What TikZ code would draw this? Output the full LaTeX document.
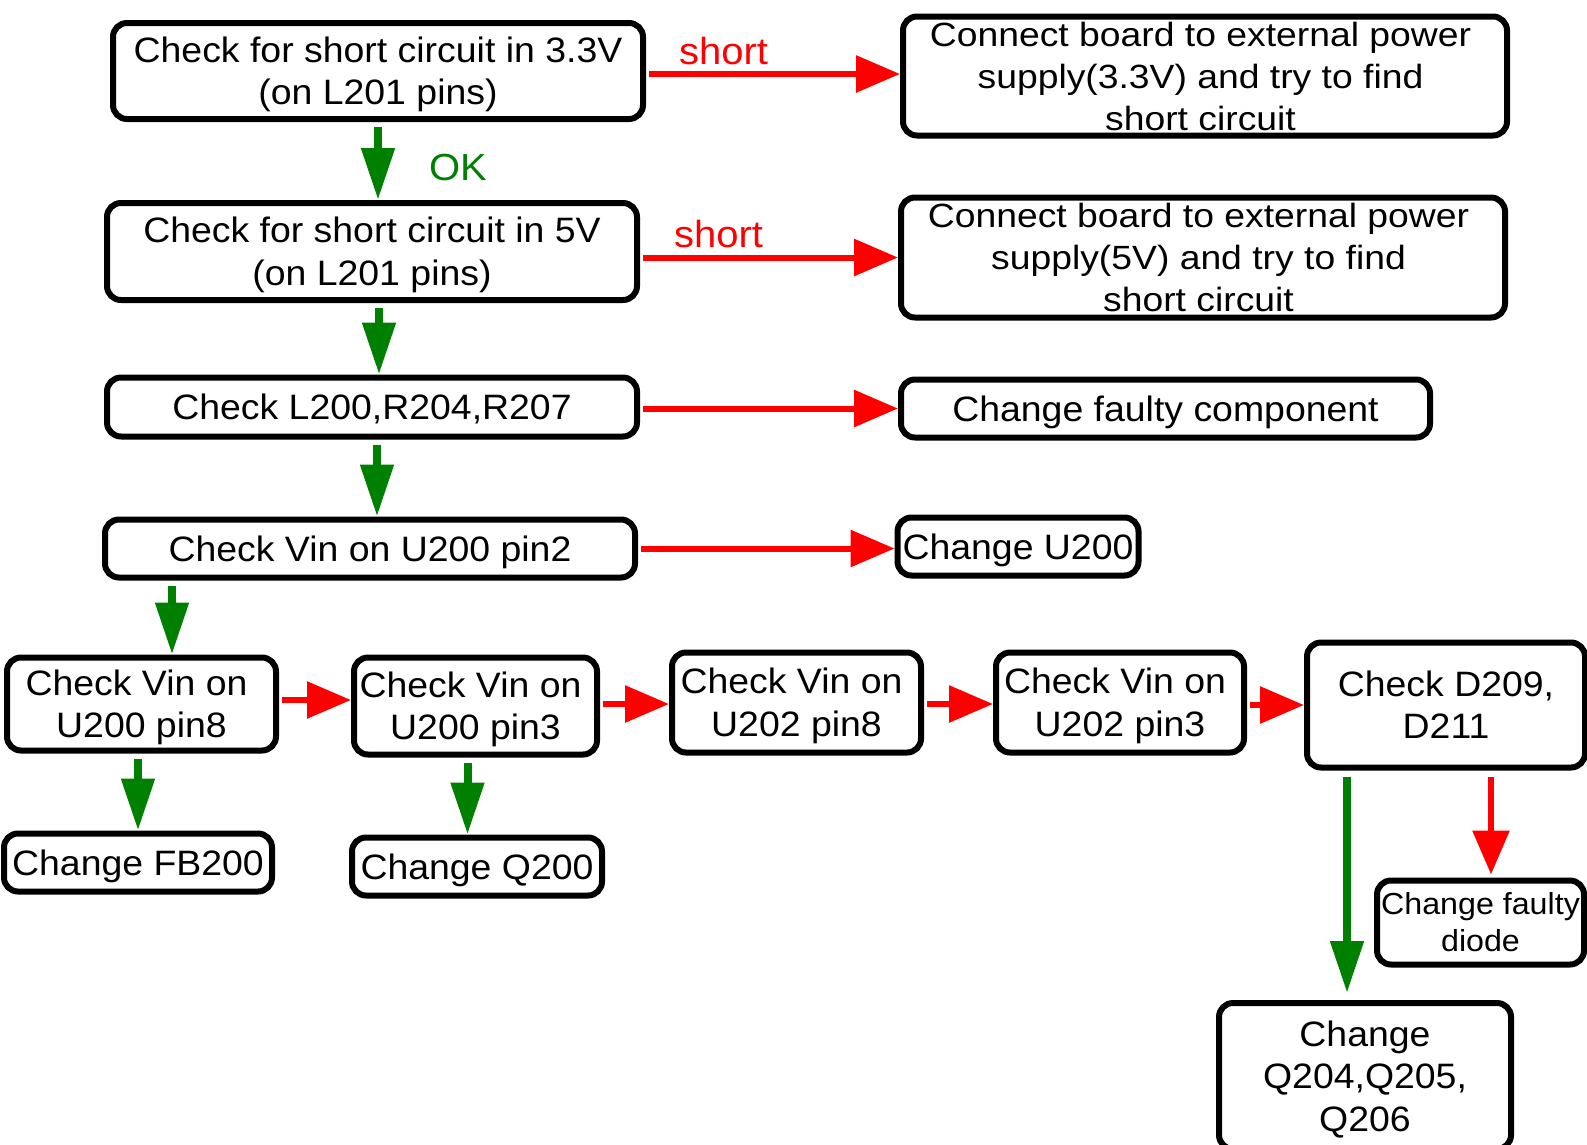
\documentclass[tikz,border=0pt]{standalone}
\usepackage{fontspec}
\setmainfont{Liberation Sans}[FakeStretch=1.06]
\newfontfamily\widefont{Liberation Sans}[FakeStretch=1.11]
\usetikzlibrary{arrows.meta,calc}
\definecolor{rd}{RGB}{255,0,0}
\definecolor{gn}{RGB}{0,128,0}
\newcommand{\bt}[1]{\raisebox{-4pt}[\height][\depth]{\begin{tabular}{@{}c@{}}#1\end{tabular}}}
\newcommand{\tsp}{\rule{10pt}{0pt}}
\begin{document}
\begin{tikzpicture}[x=1pt,y=-1pt,
 box/.style={draw=black, line width=6pt, rounded corners=14pt, inner sep=0pt, font=\fontsize{35.3}{42.5}\selectfont, fill=white},
 txt/.style={inner sep=0pt, font=\widefont\fontsize{33.6}{42}\selectfont},
 redarr/.style={draw=rd, line width=6pt, -{Triangle[length=44pt,width=36pt]}, shorten <=3pt},
 grnarr/.style={draw=gn, line width=8pt, -{Triangle[length=52pt,width=32pt]}, shorten <=5pt},
 lbl/.style={font=\fontsize{37.7}{42}\selectfont, inner sep=0pt}]
\fill[white] (0,0) rectangle (1587,1144);
\useasboundingbox (0,0) rectangle (1587,1144);

% boxes
\node[box, minimum width=530pt, minimum height=96pt] (n1) at (378,71) {\bt{Check for short circuit in 3.3V\\(on L201 pins)}};
\node[box, minimum width=604pt, minimum height=119pt] (n2) at (1205,76) {};
\node[txt] (n2t) at (1200.5,76) {\bt{Connect board to external power\\supply(3.3V) and try to find\\short circuit}};
\node[box, minimum width=530pt, minimum height=97pt] (n3) at (372,251.5) {\bt{Check for short circuit in 5V\\(on L201 pins)}};
\node[box, minimum width=604pt, minimum height=120pt] (n4) at (1203,257.5) {};
\node[txt] (n4t) at (1198.5,257.5) {\bt{Connect board to external power\\supply(5V) and try to find\\short circuit}};
\node[box, minimum width=530pt, minimum height=59pt] (n5) at (372,407) {\bt{Check L200,R204,R207}};
\node[box, minimum width=529pt, minimum height=58pt] (n6) at (1165.5,408.5) {\bt{Change faulty component}};
\node[box, minimum width=530pt, minimum height=58pt] (n7) at (370,548.5) {\bt{Check Vin on U200 pin2}};
\node[box, minimum width=241pt, minimum height=58pt] (n8) at (1018,546.5) {\bt{Change U200}};
\node[box, minimum width=269pt, minimum height=93pt] (n9) at (141.5,704) {\bt{Check Vin on\tsp\\U200 pin8}};
\node[box, minimum width=243pt, minimum height=97pt] (n10) at (475.5,706) {\bt{Check Vin on\tsp\\U200 pin3}};
\node[box, minimum width=249pt, minimum height=100pt] (n11) at (796.5,702.5) {\bt{Check Vin on\tsp\\U202 pin8}};
\node[box, minimum width=248pt, minimum height=100pt] (n12) at (1120,702.5) {\bt{Check Vin on\tsp\\U202 pin3}};
\node[box, minimum width=278pt, minimum height=125pt] (n13) at (1446,705) {\bt{Check D209,\\D211}};
\node[box, minimum width=268pt, minimum height=58pt] (n14) at (138,862.5) {\bt{Change FB200}};
\node[box, minimum width=250pt, minimum height=58pt] (n15) at (477,866.5) {\bt{Change Q200}};
\node[box, minimum width=207pt, minimum height=84pt, font=\fontsize{30.4}{36.5}\selectfont] (n16) at (1480.5,922.5) {\raisebox{-3pt}[\height][\depth]{\begin{tabular}{@{}c@{}}Change faulty\\diode\end{tabular}}};
\node[box, minimum width=292pt, minimum height=146pt] (n17) at (1365,1076) {\bt{Change\\Q204,Q205,\\Q206}};

% labels
\node[lbl, text=rd] (s1) at (723.5,51) {short};
\node[lbl, text=rd] (s2) at (718.5,234) {short};
\node[lbl, text=gn] (ok) at (458,168) {OK};

% helper coordinates
\path ($(n3.south)+(7,0)$) coordinate (c4);
\path ($(n5.south)+(5,0)$) coordinate (c6);
\path ($(n9.north)+(30.5,0)$) coordinate (c8);
\path ($(n15.north)+(-9.5,0)$) coordinate (c14);
\path ($(n17.north)+(-18,0)$) coordinate (c15);
\path ($(n16.north)+(10.5,0)$) coordinate (c16);

% red arrows
\draw[redarr] ($(n1.east)+(0,3)$) -- ($(n1.east -| n2.west)+(0,3)$);
\draw[redarr] (n4.west -| n3.east) -- (n4.west);
\draw[redarr] (n6.west -| n5.east) -- (n6.west);
\draw[redarr] (n7.east) -- (n7.east -| n8.west);
\draw[redarr] ($(n9.east)+(0,-4)$) -- ($(n9.east -| n10.west)+(0,-4)$);
\draw[redarr] ($(n10.east)+(0,-2)$) -- ($(n10.east -| n11.west)+(0,-2)$);
\draw[redarr] ($(n11.east)+(0,1.5)$) -- ($(n11.east -| n12.west)+(0,1.5)$);
\draw[redarr] ($(n12.east)+(0,2.5)$) -- ($(n12.east -| n13.west)+(0,2.5)$);
\draw[redarr, shorten <=6pt, shorten >=3pt] (c16 |- n13.south) -- (c16);

% green arrows
\draw[grnarr] (n1.south) -- (n1.south |- n3.north);
\draw[grnarr] (c4) -- (c4 |- n5.north);
\draw[grnarr] (c6) -- (c6 |- n7.north);
\draw[grnarr] (c8 |- n7.south) -- (c8);
\draw[grnarr] (n14.north |- n9.south) -- (n14.north);
\draw[grnarr] (c14 |- n10.south) -- (c14);
\draw[grnarr, shorten <=6pt, shorten >=7pt] (c15 |- n13.south) -- (c15);
\end{tikzpicture}
\end{document}
